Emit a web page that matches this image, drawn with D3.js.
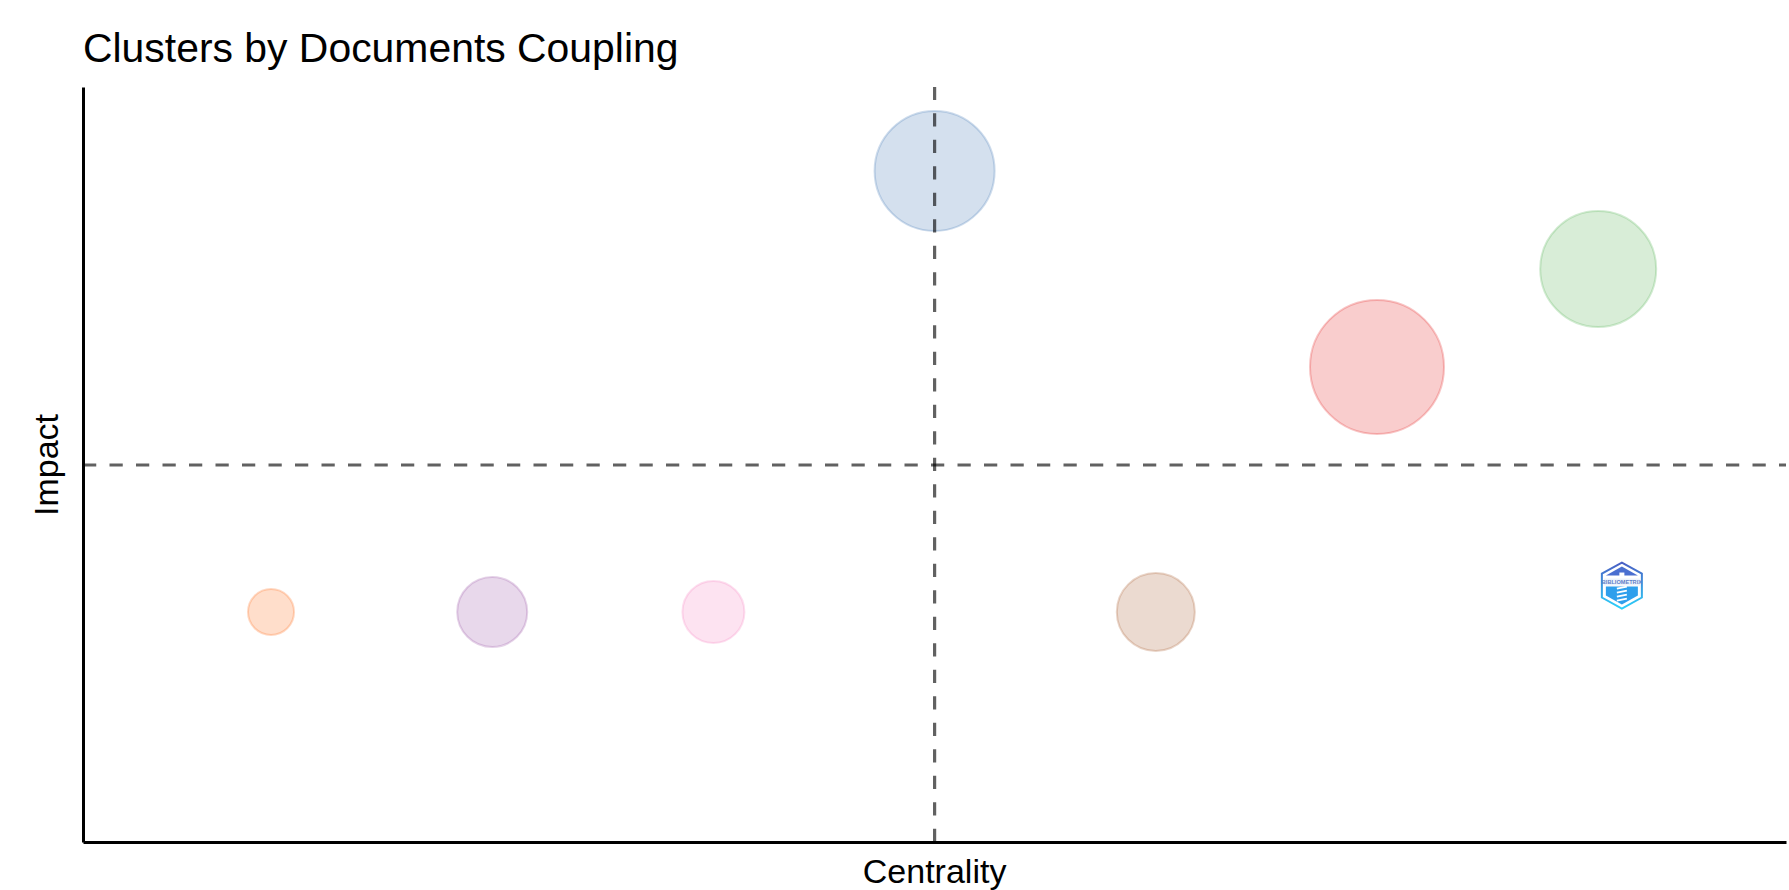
<!DOCTYPE html>
<html>
<head>
<meta charset="utf-8">
<script src="https://cdn.jsdelivr.net/npm/d3@7"></script>
<style>
  html, body { margin: 0; padding: 0; background: #fff; }
  svg { display: block; }
  text { font-family: "Liberation Sans", Arial, sans-serif; fill: #000; }
</style>
</head>
<body>
<div id="chart"></div>
<script>
// clusters
var clusterNames = ["orange", "purple", "pink", "blue", "brown", "red", "green"];
var centrality = [1, 2, 3, 4, 5, 6, 7];
var impact = [2.5, 2.5, 2.5, 7, 2.5, 5, 6];
var freq = [11.8, 27.3, 21.4, 80.2, 33.9, 100, 74.9];
var clusterColors = ["#FF6913", "#984EA3", "#F781BF", "#3C72B2", "#A65628", "#E41A1C", "#4DAF4A"];

var medianCentrality = 4, medianImpact = 4;
var logoPos = [7.107, 2.77];

var titleText = "Clusters by Documents Coupling",
    xLabel = "Centrality",
    yLabel = "Impact";

var width = 1789, height = 890;
var margin = {top: 87, right: 3, bottom: 48, left: 83};
var innerW = width - margin.left - margin.right,
    innerH = height - margin.top - margin.bottom;

var x = d3.scaleLinear().domain([0.15, 7.849]).range([0, innerW]);
var y = d3.scaleLinear().domain([0.153, 7.857]).range([innerH, 0]);
var r = d3.scaleSqrt().domain([0, 100]).range([0, 67]);

var svg = d3.select("#chart").append("svg")
    .attr("width", width)
    .attr("height", height);

var g = svg.append("g")
    .attr("transform", "translate(" + margin.left + "," + margin.top + ")");

var points = clusterNames.map(function(d, i) {
    return {name: d, cx: centrality[i], cy: impact[i], size: freq[i], color: clusterColors[i]};
});

g.selectAll("circle.cluster")
    .data(points)
    .enter().append("circle")
    .attr("class", "cluster")
    .attr("cx", function(d) { return x(d.cx); })
    .attr("cy", function(d) { return y(d.cy); })
    .attr("r", function(d) { return r(d.size); })
    .attr("fill", function(d) { return d.color; })
    .attr("fill-opacity", 0.22)
    .attr("stroke", function(d) { return d.color; })
    .attr("stroke-opacity", 0.25)
    .attr("stroke-width", 2);

// median lines
g.append("line")
    .attr("x1", x(medianCentrality)).attr("x2", x(medianCentrality))
    .attr("y1", innerH).attr("y2", 0)
    .attr("stroke", "#000").attr("stroke-opacity", 0.62)
    .attr("stroke-width", 3.2).attr("stroke-dasharray", "13.25,13.25");

g.append("line")
    .attr("x1", 0).attr("x2", innerW)
    .attr("y1", y(medianImpact)).attr("y2", y(medianImpact))
    .attr("stroke", "#000").attr("stroke-opacity", 0.62)
    .attr("stroke-width", 3.2).attr("stroke-dasharray", "13.25,13.25");

// axes without ticks
var xAxis = g.append("g")
    .attr("transform", "translate(0," + innerH + ")")
    .call(d3.axisBottom(x).tickValues([]).tickSize(0));
var yAxis = g.append("g")
    .call(d3.axisLeft(y).tickValues([]).tickSize(0));
svg.selectAll(".domain").attr("stroke", "#000").attr("stroke-width", 3);

svg.append("text")
    .attr("x", 83).attr("y", 62)
    .attr("font-size", 40.9)
    .text(titleText);

svg.append("text")
    .attr("x", margin.left + x(medianCentrality)).attr("y", 882.5)
    .attr("text-anchor", "middle")
    .attr("font-size", 34)
    .text(xLabel);

svg.append("text")
    .attr("transform", "translate(58," + (margin.top + y(medianImpact)) + ") rotate(-90)")
    .attr("text-anchor", "middle")
    .attr("font-size", 34)
    .text(yLabel);

// small logo in the lower right
var defs = svg.append("defs");
var grad = defs.append("linearGradient").attr("id", "logoGrad")
    .attr("x1", 0).attr("y1", 0).attr("x2", 0).attr("y2", 1);
grad.append("stop").attr("offset", "0%").attr("stop-color", "#4a5fc4");
grad.append("stop").attr("offset", "100%").attr("stop-color", "#2bd0fa");

var logo = g.append("g")
    .attr("transform", "translate(" + x(logoPos[0]) + "," + y(logoPos[1]) + ")");
var hex = [[0, -23], [20, -12], [20, 12], [0, 23], [-20, 12], [-20, -12]];
logo.append("polygon")
    .attr("points", hex.join(" "))
    .attr("fill", "#fff")
    .attr("stroke", "url(#logoGrad)")
    .attr("stroke-width", 2);
logo.append("polygon")
    .attr("points", "0,-19 16,-10 -16,-10")
    .attr("fill", "#4a6fd0");
logo.append("rect")
    .attr("x", -18).attr("y", -7).attr("width", 36).attr("height", 7)
    .attr("fill", "#eef3fb");
logo.append("polygon")
    .attr("points", "-16,1 16,1 16,10 0,19 -16,10")
    .attr("fill", "#2f9fec");
logo.append("text")
    .attr("y", -1.2)
    .attr("text-anchor", "middle")
    .attr("font-size", 5.6)
    .attr("font-weight", "bold")
    .style("fill", "#5f7fc8")
    .text("BIBLIOMETRIX");
logo.append("path")
    .attr("d", "M-5,3 L5,1 M-5,7 L5,5 M-5,11 L5,9 M-5,15 L5,13")
    .attr("stroke", "#fff").attr("stroke-width", 1.8);
logo.append("rect")
    .attr("x", -2.5).attr("y", -13).attr("width", 5).attr("height", 5)
    .attr("fill", "#fff");
</script>
</body>
</html>
